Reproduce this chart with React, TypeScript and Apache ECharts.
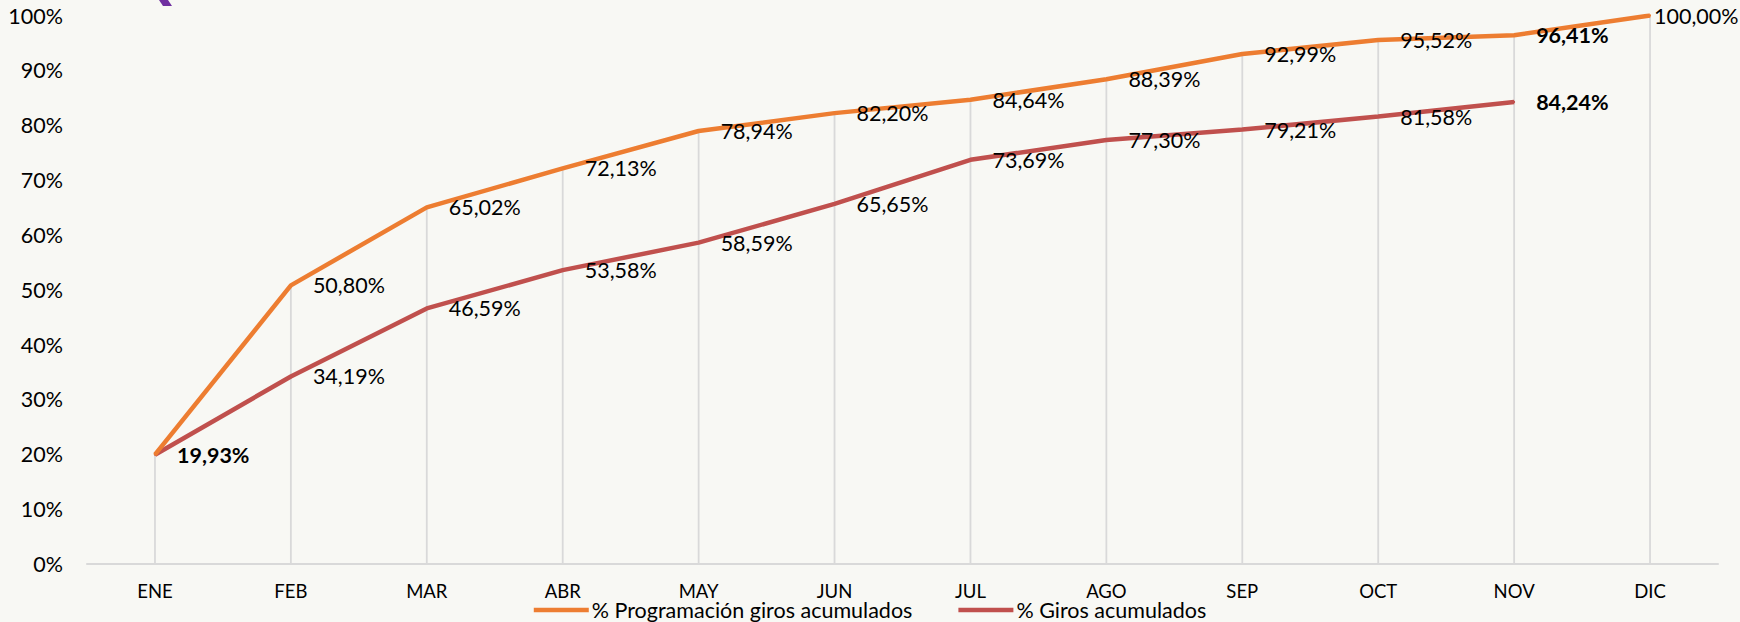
import React, { useEffect, useRef } from "react";
import * as echarts from "echarts";

const months = ["ENE", "FEB", "MAR", "ABR", "MAY", "JUN", "JUL", "AGO", "SEP", "OCT", "NOV", "DIC"];
const programacion = [19.93, 50.8, 65.02, 72.13, 78.94, 82.2, 84.64, 88.39, 92.99, 95.52, 96.41, 100.0];
const giros = [19.93, 34.19, 46.59, 53.58, 58.59, 65.65, 73.69, 77.3, 79.21, 81.58, 84.24];
const yTicks = [0, 10, 20, 30, 40, 50, 60, 70, 80, 90, 100];

const FONT = "Lato";
const ORANGE = "#ED7D31";
const RED = "#C0504D";

const fmt = (v: number) => v.toFixed(2).replace(".", ",") + "%";

export default function App() {
  const ref = useRef<HTMLDivElement>(null);
  useEffect(() => {
    document.body.style.margin = "0";
    document.body.style.background = "#F8F8F4";
    const chart = echarts.init(ref.current!, null, { renderer: "svg" });
    const dropData = months.map((_, i) => [i, Math.max(programacion[i] ?? 0, giros[i] ?? 0)]);
    const progData = programacion.map((v, i) => {
      const item: any = { value: v };
      if (i === 0) item.label = { show: false };
      if (i === 10) item.label = { fontWeight: "bold" };
      if (i === 11) item.label = { distance: 3 };
      return item;
    });
    const girosData = giros.map((v, i) => {
      const item: any = { value: v };
      if (i === 0 || i === 10) item.label = { fontWeight: "bold" };
      return item;
    });
    const labelStyle = {
      show: true,
      position: "right",
      distance: 21,
      color: "#000",
      fontFamily: FONT,
      fontSize: 21.5,
      formatter: (p: any) => fmt(p.value),
    };
    chart.setOption({
      animation: false,
      backgroundColor: "#F8F8F4",
      textStyle: { fontFamily: FONT },
      grid: { left: 87, right: 22, top: 15.5, bottom: 58, containLabel: false },
      graphic: [
        {
          type: "polygon",
          shape: { points: [[159, 0], [168, 0], [172, 6], [163, 6]] },
          style: { fill: "#7030A0" },
        },
      ],
      legend: {
        top: 599,
        left: "center",
        padding: 0,
        itemGap: 46,
        itemWidth: 55,
        itemHeight: 4.5,
        icon: "rect",
        textStyle: {
          fontFamily: FONT,
          fontSize: 21.5,
          color: "#000",
          padding: [0, 0, 0, -2],
        },
        data: ["% Programación giros acumulados", "% Giros acumulados"],
      },
      xAxis: {
        type: "category",
        data: months,
        boundaryGap: true,
        axisLine: { lineStyle: { color: "#D9D9D9", width: 2 } },
        axisTick: { show: false },
        axisLabel: { color: "#000", fontFamily: FONT, fontSize: 18.5, lineHeight: 17, margin: 18 },
        splitLine: { show: false },
      },
      yAxis: {
        type: "value",
        min: 0,
        max: 100,
        interval: 10,
        axisLine: { show: false },
        axisTick: { show: false },
        splitLine: { show: false },
        axisLabel: {
          color: "#000",
          fontFamily: FONT,
          fontSize: 21.5,
          margin: 24,
          formatter: (v: number) => (yTicks.includes(v) ? v + "%" : ""),
        },
      },
      series: [
        {
          type: "custom",
          name: "drop",
          silent: true,
          z: 1,
          data: dropData,
          renderItem: (params: any, api: any) => {
            const i = api.value(0);
            const top = api.coord([i, api.value(1)]);
            const bot = api.coord([i, 0]);
            return {
              type: "line",
              shape: { x1: top[0], y1: top[1], x2: bot[0], y2: bot[1] },
              style: { stroke: "#D9D9D9", lineWidth: 1.8 },
            };
          },
        },
        {
          type: "line",
          name: "% Programación giros acumulados",
          data: progData,
          z: 3,
          symbol: "circle",
          symbolSize: 2,
          showSymbol: true,
          itemStyle: { color: ORANGE },
          lineStyle: { color: ORANGE, width: 4.5 },
          label: labelStyle,
        },
        {
          type: "line",
          name: "% Giros acumulados",
          data: girosData,
          z: 2,
          symbol: "circle",
          symbolSize: 2,
          showSymbol: true,
          itemStyle: { color: RED },
          lineStyle: { color: RED, width: 4.5 },
          label: labelStyle,
        },
      ],
    });
    return () => chart.dispose();
  }, []);
  return <div ref={ref} style={{ width: 1740, height: 622 }} />;
}
